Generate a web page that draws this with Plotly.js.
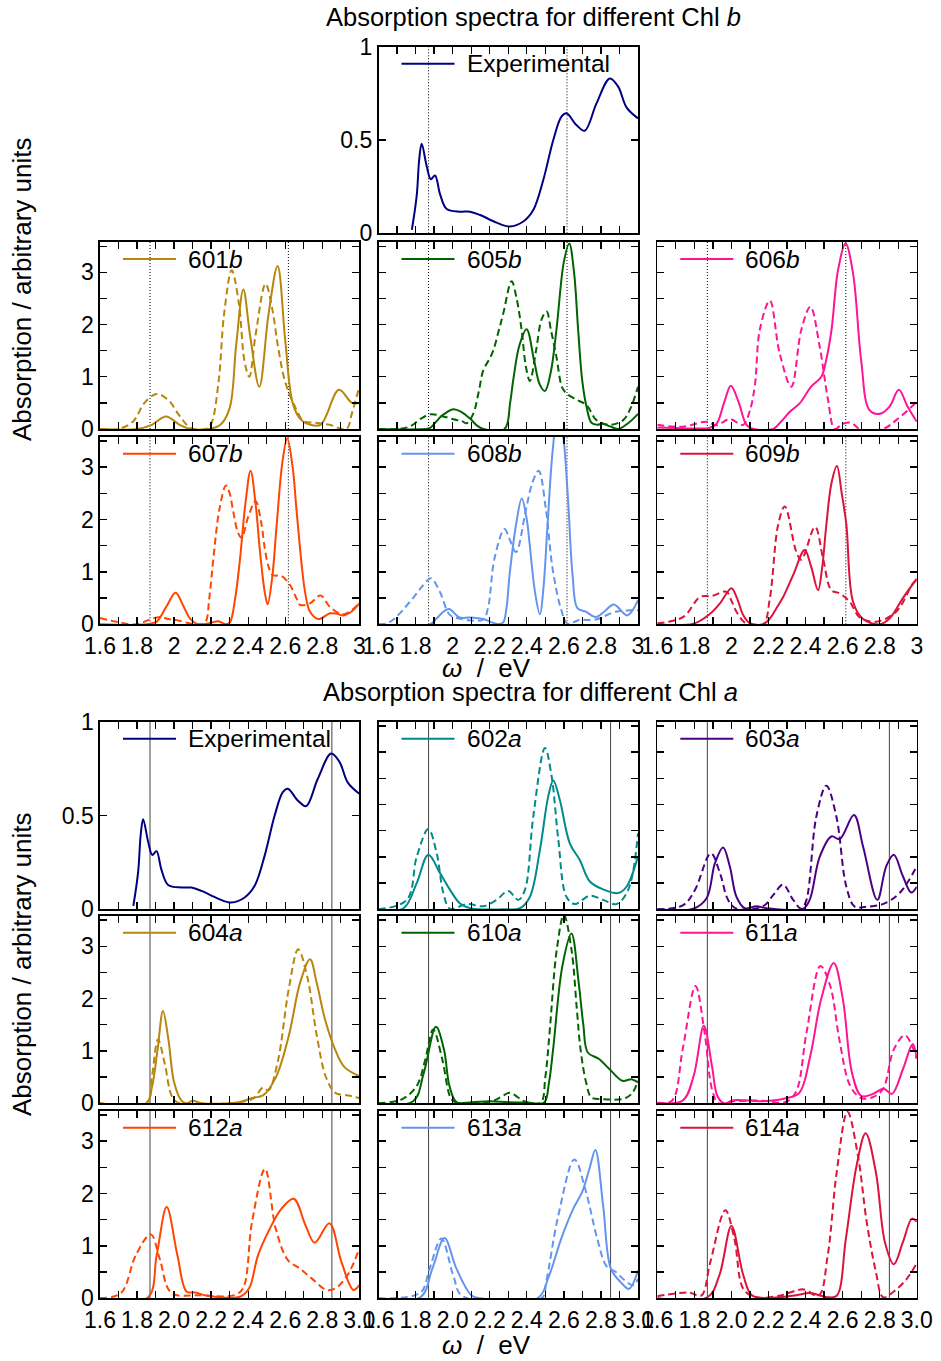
<!DOCTYPE html>
<html><head><meta charset="utf-8">
<script src="https://cdn.plot.ly/plotly-3.0.1.min.js"></script>
<style>html,body{margin:0;padding:0;background:#fff}#chart{width:941px;height:1361px}</style>
</head><body><div id="chart"></div>
<script>
// ---------------- DATA ----------------
// Experimental spectrum (same in both blocks)
const expX = [1.78,1.806,1.82,1.833,1.86,1.882,1.905,1.932,1.968,2.04,2.094,2.148,2.237,2.309,2.381,2.435,2.489,2.543,2.587,2.614,2.668,2.713,2.776,2.848,2.893,2.938,3.0];
const expY = [0.018,0.2,0.4,0.48,0.36,0.29,0.31,0.21,0.13,0.116,0.116,0.098,0.057,0.036,0.063,0.125,0.286,0.5,0.625,0.643,0.58,0.55,0.696,0.83,0.786,0.675,0.616];

// Chl b sites: solid (s) and dashed (d)
const x601b_s = [1.6,1.8,1.88,1.956,2.03,2.09,2.19,2.25,2.3,2.335,2.374,2.41,2.46,2.51,2.559,2.6,2.64,2.68,2.72,2.79,2.89,2.96,3.0];
const y601b_s = [0,0,0.08,0.24,0.08,0,0,0.08,0.4,1.6,2.67,1.8,0.81,2.2,3.12,1.7,0.5,0.2,0.1,0.08,0.75,0.5,0.5];
const x601b_d = [1.6,1.7,1.78,1.84,1.906,1.97,2.03,2.09,2.17,2.2,2.24,2.27,2.311,2.35,2.38,2.406,2.44,2.494,2.53,2.56,2.6,2.65,2.7,2.76,2.84,2.93,2.96,3.0];
const y601b_d = [0,0,0.15,0.5,0.67,0.55,0.25,0.02,0,0.1,0.9,2.2,3.04,2.4,1.3,1.0,1.8,2.78,2.3,1.6,0.9,0.45,0.15,0.12,0.08,0,0.3,0.81];

const x605b_s = [1.6,1.85,1.878,1.94,2.004,2.05,2.094,2.13,2.166,2.28,2.31,2.327,2.36,2.399,2.44,2.47,2.498,2.53,2.56,2.6,2.629,2.655,2.677,2.7,2.722,2.749,2.78,2.81,2.85,2.893,2.95,3.0];
const y605b_s = [0,0,0.02,0.25,0.38,0.32,0.2,0.07,0,0,0.5,0.94,1.6,1.91,1.3,0.85,0.73,1.1,1.9,3.2,3.55,3.0,1.9,0.9,0.43,0.12,0.08,0.1,0.05,0,0.12,0.29];
const x605b_d = [1.6,1.7,1.77,1.83,1.878,1.94,2.004,2.05,2.076,2.112,2.14,2.166,2.2,2.22,2.25,2.273,2.318,2.345,2.372,2.395,2.417,2.45,2.48,2.507,2.53,2.56,2.59,2.614,2.668,2.722,2.776,2.848,2.92,2.96,3.0];
const y605b_d = [0,0,0.05,0.2,0.28,0.25,0.185,0.15,0.11,0.3,0.7,1.13,1.35,1.51,1.9,2.21,2.83,2.5,1.9,1.2,0.92,1.5,2.1,2.25,1.9,1.38,0.8,0.68,0.56,0.46,0.17,0.08,0.17,0.4,0.81];

const x606b_s = [1.6,1.7,1.8,1.88,1.92,1.96,1.997,2.04,2.081,2.12,2.225,2.27,2.315,2.368,2.43,2.485,2.51,2.54,2.575,2.616,2.656,2.7,2.745,2.8,2.853,2.903,2.95,3.0];
const y606b_s = [0.03,0.02,0.01,0.02,0.1,0.5,0.83,0.5,0.08,0,0,0.15,0.33,0.49,0.81,1.0,1.3,1.9,3.04,3.55,2.98,1.31,0.36,0.29,0.43,0.75,0.43,0.14];
const x606b_d = [1.6,1.74,1.866,1.92,1.99,2.063,2.1,2.127,2.153,2.207,2.26,2.323,2.377,2.426,2.476,2.521,2.557,2.6,2.647,2.692,2.817,2.889,2.988,3.0];
const y606b_d = [0.08,0.045,0.14,0.07,0.19,0.08,0.36,0.85,1.9,2.46,1.45,0.81,1.9,2.34,1.58,0.56,0,0.1,0.12,0,0,0.17,0.48,0.52];

const x607b_s = [1.6,1.85,1.906,1.96,2.008,2.05,2.086,2.13,2.2,2.239,2.28,2.302,2.33,2.356,2.385,2.413,2.44,2.464,2.49,2.505,2.53,2.554,2.585,2.611,2.64,2.662,2.69,2.707,2.734,2.779,2.842,2.88,2.914,2.96,3.0];
const y607b_s = [0,0,0.05,0.35,0.6,0.35,0.11,0,0.03,0.06,0,0.04,0.5,1.25,2.3,2.93,2.3,1.38,0.6,0.38,0.9,1.9,3.1,3.55,3.0,2.14,1.1,0.62,0.24,0.1,0.21,0.2,0.17,0.25,0.4];
const x607b_d = [1.6,1.7,1.798,1.86,1.924,1.97,2.014,2.07,2.122,2.167,2.19,2.212,2.245,2.28,2.3,2.32,2.345,2.365,2.4,2.44,2.47,2.49,2.51,2.532,2.581,2.626,2.66,2.68,2.734,2.791,2.842,2.914,3.0];
const y607b_d = [0.12,0.04,0,0.08,0.14,0.1,0.08,0.03,0,0.03,0.5,1.25,2.2,2.65,2.5,2.14,1.75,1.65,2.05,2.35,1.95,1.44,1.1,0.94,0.92,0.75,0.5,0.37,0.4,0.55,0.33,0.19,0.4];

const x608b_s = [1.6,1.877,1.913,1.95,1.981,2.038,2.092,2.164,2.235,2.271,2.29,2.307,2.342,2.373,2.4,2.414,2.445,2.471,2.49,2.512,2.539,2.566,2.593,2.62,2.647,2.673,2.718,2.772,2.82,2.87,2.942,3.0];
const y608b_s = [0,0,0.11,0.24,0.29,0.13,0.13,0.1,0.01,0.03,0.3,0.94,1.9,2.4,2.0,1.58,0.6,0.19,0.7,1.9,3.29,4.0,3.67,2.53,0.94,0.31,0.24,0.14,0.25,0.38,0.17,0.46];
const x608b_d = [1.6,1.66,1.77,1.842,1.883,1.931,1.985,2.038,2.164,2.19,2.226,2.28,2.31,2.342,2.396,2.43,2.464,2.503,2.539,2.584,2.62,2.682,2.772,2.879,3.0];
const y608b_d = [0,0.04,0.43,0.75,0.88,0.62,0.18,0.11,0.09,0.3,1.26,1.82,1.6,1.38,2.2,2.7,2.93,2.2,1.07,0.3,0.01,0.08,0.09,0.24,0.27];

const x609b_s = [1.6,1.794,1.884,1.938,2.0,2.03,2.063,2.1,2.171,2.207,2.25,2.279,2.333,2.395,2.43,2.467,2.49,2.512,2.54,2.569,2.595,2.62,2.656,2.71,2.8,2.853,2.925,3.0];
const y609b_s = [0,0.01,0.2,0.4,0.69,0.5,0.18,0.02,0,0.11,0.35,0.52,0.94,1.42,1.1,0.65,1.1,1.9,2.7,3.02,2.5,1.9,0.43,0.1,0,0.11,0.5,0.87];
const x609b_d = [1.6,1.74,1.83,1.893,1.973,2.0,2.027,2.081,2.171,2.207,2.252,2.288,2.35,2.377,2.451,2.494,2.539,2.584,2.638,2.692,2.781,2.889,2.979,3.0];
const y609b_d = [0.02,0.14,0.52,0.54,0.62,0.45,0.24,0.01,0,0.49,1.9,2.25,1.38,1.23,1.86,1.26,0.65,0.59,0.43,0.13,0.05,0.24,0.78,0.85];

// Chl a sites
const x602a_s = [1.6,1.735,1.806,1.869,1.932,1.986,2.04,2.094,2.273,2.363,2.417,2.471,2.516,2.543,2.578,2.632,2.686,2.74,2.812,2.893,2.938,3.0];
const y602a_s = [0,0.02,0.5,1.04,0.69,0.37,0.11,0.02,0,0.02,0.24,1.14,2.16,2.46,2.09,1.26,0.94,0.53,0.38,0.31,0.43,1.01];
const x602a_d = [1.6,1.753,1.806,1.869,1.914,1.95,1.986,2.076,2.166,2.237,2.3,2.354,2.39,2.435,2.498,2.534,2.57,2.614,2.659,2.74,2.812,2.884,2.947,3.0];
const y602a_d = [0,0.18,1.0,1.53,1.07,0.31,0.01,0.1,0.06,0.18,0.35,0.18,0.37,1.77,3.08,2.54,1.33,0.24,0.1,0.26,0.18,0.1,0.37,1.45];

const x603a_s = [1.6,1.794,1.866,1.911,1.955,1.991,2.027,2.072,2.135,2.189,2.386,2.422,2.476,2.539,2.584,2.661,2.71,2.787,2.835,2.876,2.925,2.97,3.0];
const y603a_s = [0,0.01,0.21,0.88,1.18,0.82,0.24,0.02,0.06,0.02,0.01,0.18,1.0,1.39,1.34,1.8,1.2,0.18,0.82,1.04,0.63,0.32,0.43];
const x603a_d = [1.6,1.74,1.803,1.889,1.938,1.982,2.027,2.171,2.225,2.279,2.333,2.377,2.404,2.458,2.512,2.566,2.62,2.665,2.727,2.817,2.907,3.0];
const y603a_d = [0,0.08,0.37,1.07,0.69,0.18,0.01,0.06,0.27,0.47,0.18,0.01,0.17,1.77,2.36,1.77,0.43,0.05,0.05,0.1,0.31,0.82];

const x604a_s = [1.6,1.85,1.88,1.91,1.94,1.97,2.0,2.04,2.07,2.1,2.15,2.35,2.42,2.48,2.55,2.62,2.68,2.734,2.77,2.815,2.869,2.92,3.0];
const y604a_s = [0,0,0.3,1.0,1.76,1.2,0.4,0.05,0,0.05,0,0.02,0.1,0.15,0.5,1.3,2.3,2.75,2.3,1.6,1.03,0.69,0.52];
const x604a_d = [1.6,1.85,1.88,1.913,1.95,1.99,2.03,2.35,2.43,2.48,2.51,2.56,2.62,2.67,2.72,2.77,2.82,2.87,2.94,3.0];
const y604a_d = [0,0,0.5,1.22,0.75,0.12,0,0.02,0.1,0.3,0.25,0.8,2.2,2.94,2.4,1.3,0.5,0.2,0.15,0.1];

const x610a_s = [1.6,1.787,1.845,1.91,1.953,1.983,2.022,2.1,2.2,2.3,2.415,2.493,2.52,2.542,2.592,2.641,2.68,2.705,2.729,2.788,2.847,2.916,2.965,3.0];
const y610a_s = [0,0.04,0.59,1.46,1.03,0.33,0.02,0.02,0.04,0.02,0.01,0.01,0.4,1.03,2.62,3.24,2.3,1.5,0.97,0.85,0.65,0.43,0.46,0.4];
const x610a_d = [1.6,1.728,1.806,1.85,1.895,1.944,1.993,2.03,2.219,2.26,2.307,2.35,2.376,2.474,2.5,2.523,2.562,2.6,2.641,2.67,2.69,2.72,2.749,2.808,2.926,2.97,3.0];
const y610a_d = [0,0.08,0.33,0.8,1.41,0.84,0.08,0,0.05,0.12,0.2,0.12,0.05,0.01,0.5,1.35,2.94,3.6,2.94,1.8,1.03,0.4,0.11,0.08,0.09,0.2,0.43];

const x611a_s = [1.6,1.737,1.796,1.851,1.895,1.924,1.96,2.012,2.169,2.287,2.366,2.425,2.484,2.552,2.601,2.65,2.7,2.758,2.821,2.866,2.925,2.978,3.0];
const y611a_s = [0.01,0.05,0.52,1.48,0.71,0.14,0,0.06,0.04,0.09,0.2,0.9,1.99,2.68,1.99,0.59,0.14,0.17,0.28,0.18,0.65,1.13,0.85];
const x611a_d = [1.6,1.679,1.737,1.806,1.855,1.895,1.93,2.012,2.169,2.287,2.346,2.405,2.48,2.533,2.582,2.641,2.7,2.758,2.817,2.876,2.935,2.974,3.0];
const y611a_d = [0.01,0.05,1.03,2.24,1.35,0.27,0,0.04,0.05,0.02,0.2,1.35,2.62,2.24,1.22,0.33,0.1,0.11,0.27,1.03,1.3,1.1,0.85];

const x612a_s = [1.6,1.857,1.906,1.96,2.018,2.067,2.115,2.18,2.356,2.405,2.453,2.517,2.58,2.646,2.71,2.759,2.839,2.903,2.968,3.0];
const y612a_s = [0,0.01,0.82,1.74,0.82,0.13,0.11,0.05,0.03,0.19,0.82,1.33,1.71,1.9,1.39,1.06,1.43,0.7,0.16,0.25];
const x612a_d = [1.6,1.713,1.793,1.874,1.922,1.986,2.131,2.324,2.372,2.421,2.491,2.549,2.614,2.678,2.743,2.823,2.871,2.936,3.0];
const y612a_d = [0,0.1,0.82,1.22,0.76,0.1,0.06,0.06,0.19,1.46,2.47,1.33,0.73,0.57,0.38,0.16,0.19,0.44,0.95];

const x613a_s = [1.6,1.826,1.891,1.956,2.02,2.101,2.15,2.457,2.521,2.586,2.651,2.699,2.74,2.77,2.812,2.854,2.909,2.951,3.0];
const y613a_s = [0,0.02,0.57,1.15,0.57,0.06,0,0,0.44,1.14,1.71,2.03,2.5,2.83,1.77,0.56,0.3,0.18,0.53];
const x613a_d = [1.6,1.826,1.875,1.939,2.004,2.053,2.48,2.505,2.57,2.657,2.715,2.78,2.829,2.877,2.926,2.974,3.0];
const y613a_d = [0,0.11,0.56,1.14,0.43,0.04,0,0.32,1.58,2.65,2.09,1.14,0.62,0.51,0.35,0.25,0.37];

const x614a_s = [1.6,1.87,1.935,2.0,2.064,2.113,2.259,2.35,2.422,2.519,2.568,2.617,2.675,2.724,2.779,2.828,2.876,2.925,2.974,3.0];
const y614a_s = [0,0.02,0.44,1.38,0.44,0.05,0.02,0.06,0.1,0.02,0.05,1.13,2.53,3.15,2.41,1.07,0.65,1.07,1.52,1.46];
const x614a_d = [1.6,1.772,1.837,1.886,1.967,2.016,2.064,2.129,2.259,2.389,2.47,2.519,2.568,2.626,2.682,2.73,2.779,2.818,2.876,2.941,3.0];
const y614a_d = [0.04,0.11,0.05,0.69,1.68,1.13,0.18,0.02,0.05,0.17,0.05,0.81,2.41,3.56,2.73,1.45,0.51,0.02,0.13,0.35,0.67];

// reference (experimental peak) positions
const refLinesB = [1.87, 2.617];
const refLinesA = [1.87, 2.852];

// ticks
const xTickVals = [1.6,1.7,1.8,1.9,2.0,2.1,2.2,2.3,2.4,2.5,2.6,2.7,2.8,2.9,3.0];
const xTickTextB = ['1.6','','1.8','','2','','2.2','','2.4','','2.6','','2.8','','3'];
const xTickTextA = ['1.6','','1.8','','2.0','','2.2','','2.4','','2.6','','2.8','','3.0'];
const yTickValsCalc = [0,0.5,1,1.5,2,2.5,3,3.5];
const yTickTextCalc = ['0','','1','','2','','3',''];
const yTickValsExp = [0,0.5,1];
const yTickTextExp = ['0','0.5','1'];

// ---------------- LAYOUT ----------------
const W = 941, H = 1361;
const FONT = '"Liberation Sans", Arial, sans-serif';
const colX = [[100,359.3],[378.5,638],[657.3,916.8]];
const rowY = {
  b: [[46.7,233.3],[242,429],[436.7,624.3]],
  a: [[721.7,909.3],[915.8,1103.3],[1110.7,1298.3]]
};
const panels = [
  {blk:'b', r:0, c:1, label:'Experimental', color:'#000080', exp:true, s:[expX,expY]},
  {blk:'b', r:1, c:0, label:'601<i>b</i>', color:'#b8860b', s:[x601b_s,y601b_s], d:[x601b_d,y601b_d]},
  {blk:'b', r:1, c:1, label:'605<i>b</i>', color:'#006400', s:[x605b_s,y605b_s], d:[x605b_d,y605b_d]},
  {blk:'b', r:1, c:2, label:'606<i>b</i>', color:'#ff1493', s:[x606b_s,y606b_s], d:[x606b_d,y606b_d]},
  {blk:'b', r:2, c:0, label:'607<i>b</i>', color:'#ff4500', s:[x607b_s,y607b_s], d:[x607b_d,y607b_d]},
  {blk:'b', r:2, c:1, label:'608<i>b</i>', color:'#6495ed', s:[x608b_s,y608b_s], d:[x608b_d,y608b_d]},
  {blk:'b', r:2, c:2, label:'609<i>b</i>', color:'#dc143c', s:[x609b_s,y609b_s], d:[x609b_d,y609b_d]},
  {blk:'a', r:0, c:0, label:'Experimental', color:'#000080', exp:true, s:[expX,expY]},
  {blk:'a', r:0, c:1, label:'602<i>a</i>', color:'#008b8b', s:[x602a_s,y602a_s], d:[x602a_d,y602a_d]},
  {blk:'a', r:0, c:2, label:'603<i>a</i>', color:'#4b0082', s:[x603a_s,y603a_s], d:[x603a_d,y603a_d]},
  {blk:'a', r:1, c:0, label:'604<i>a</i>', color:'#b8860b', s:[x604a_s,y604a_s], d:[x604a_d,y604a_d]},
  {blk:'a', r:1, c:1, label:'610<i>a</i>', color:'#006400', s:[x610a_s,y610a_s], d:[x610a_d,y610a_d]},
  {blk:'a', r:1, c:2, label:'611<i>a</i>', color:'#ff1493', s:[x611a_s,y611a_s], d:[x611a_d,y611a_d]},
  {blk:'a', r:2, c:0, label:'612<i>a</i>', color:'#ff4500', s:[x612a_s,y612a_s], d:[x612a_d,y612a_d]},
  {blk:'a', r:2, c:1, label:'613<i>a</i>', color:'#6495ed', s:[x613a_s,y613a_s], d:[x613a_d,y613a_d]},
  {blk:'a', r:2, c:2, label:'614<i>a</i>', color:'#dc143c', s:[x614a_s,y614a_s], d:[x614a_d,y614a_d]}
];

const layout = {
  width: W, height: H,
  margin: {l:0, r:0, t:0, b:0},
  paper_bgcolor: '#fff', plot_bgcolor: '#fff',
  showlegend: false,
  font: {family: FONT, size: 23, color: '#000'},
  shapes: [], annotations: []
};
const traces = [];

panels.forEach((p, i) => {
  const n = i + 1;
  const xa = 'x' + (n === 1 ? '' : n), ya = 'y' + (n === 1 ? '' : n);
  const [x0, x1] = colX[p.c];
  const [y0, y1] = rowY[p.blk][p.r];
  const pw = x1 - x0, ph = y1 - y0;
  const showX = p.r === 2;
  const showY = p.c === 0 || p.exp;
  const xText = p.blk === 'b' ? xTickTextB : xTickTextA;
  const common = {
    ticks: 'inside', ticklen: 7, tickwidth: 1.3, tickcolor: '#000',
    showline: true, mirror: 'ticks', linecolor: '#000', linewidth: 1.6,
    showgrid: false, zeroline: false, fixedrange: true,
    tickfont: {family: FONT, size: 23, color: '#000'}, tickmode: 'array'
  };
  layout['xaxis' + (n === 1 ? '' : n)] = Object.assign({}, common, {
    domain: [x0 / W, x1 / W], range: [1.6, 3.0], anchor: ya,
    tickvals: xTickVals,
    ticktext: showX ? xText : xTickVals.map(() => '')
  });
  const yv = p.exp ? yTickValsExp : yTickValsCalc;
  const yt = p.exp ? yTickTextExp : yTickTextCalc;
  layout['yaxis' + (n === 1 ? '' : n)] = Object.assign({}, common, {
    domain: [1 - y1 / H, 1 - y0 / H], range: p.exp ? [0, 1] : [0, 3.58], anchor: xa,
    tickvals: yv, ticktext: showY ? yt : yv.map(() => '')
  });
  // reference lines
  const refs = p.blk === 'b' ? refLinesB : refLinesA;
  refs.forEach(v => layout.shapes.push({
    type: 'line', xref: xa, yref: ya + ' domain', x0: v, x1: v, y0: 0, y1: 1, layer: 'below',
    line: p.blk === 'b' ? {color: '#000', width: 1, dash: '1px,2px'} : {color: '#444', width: 1}
  }));
  // curves
  if (p.d) traces.push({
    x: p.d[0], y: p.d[1], xaxis: xa, yaxis: ya, mode: 'lines', hoverinfo: 'skip',
    line: {color: p.color, width: 2, dash: '7px,4px', shape: 'spline', smoothing: 1}
  });
  traces.push({
    x: p.s[0], y: p.s[1], xaxis: xa, yaxis: ya, mode: 'lines', hoverinfo: 'skip', name: p.label,
    line: {color: p.color, width: 2, shape: 'spline', smoothing: 1}
  });
  // legend entry
  const ly = 1 - 17 / ph;
  layout.shapes.push({
    type: 'line', xref: xa + ' domain', yref: ya + ' domain',
    x0: 23 / pw, x1: 76 / pw, y0: ly, y1: ly, line: {color: p.color, width: 2}
  });
  layout.annotations.push({
    xref: xa + ' domain', yref: ya + ' domain', x: 86 / pw, y: ly,
    xanchor: 'left', yanchor: 'middle', showarrow: false, text: p.label,
    font: {family: FONT, size: 24.5, color: '#000'}
  });
});

// titles & axis labels
const txt = (x, y, text, size, extra) => layout.annotations.push(Object.assign({
  xref: 'paper', yref: 'paper', x: x / W, y: 1 - y / H, xanchor: 'center', yanchor: 'middle',
  showarrow: false, text: text, font: {family: FONT, size: size, color: '#000'}
}, extra || {}));
txt(533, 17, 'Absorption spectra for different Chl <i>b</i>', 25.5);
txt(530, 692, 'Absorption spectra for different Chl <i>a</i>', 25.5);
txt(22, 290, 'Absorption / arbitrary units', 26, {textangle: -90});
txt(22, 965, 'Absorption / arbitrary units', 26, {textangle: -90});
txt(486, 668, '<i>ω</i>  /  eV', 26);
txt(486, 1345, '<i>ω</i>  /  eV', 26);

Plotly.newPlot('chart', traces, layout, {staticPlot: true, displayModeBar: false});
</script></body></html>
